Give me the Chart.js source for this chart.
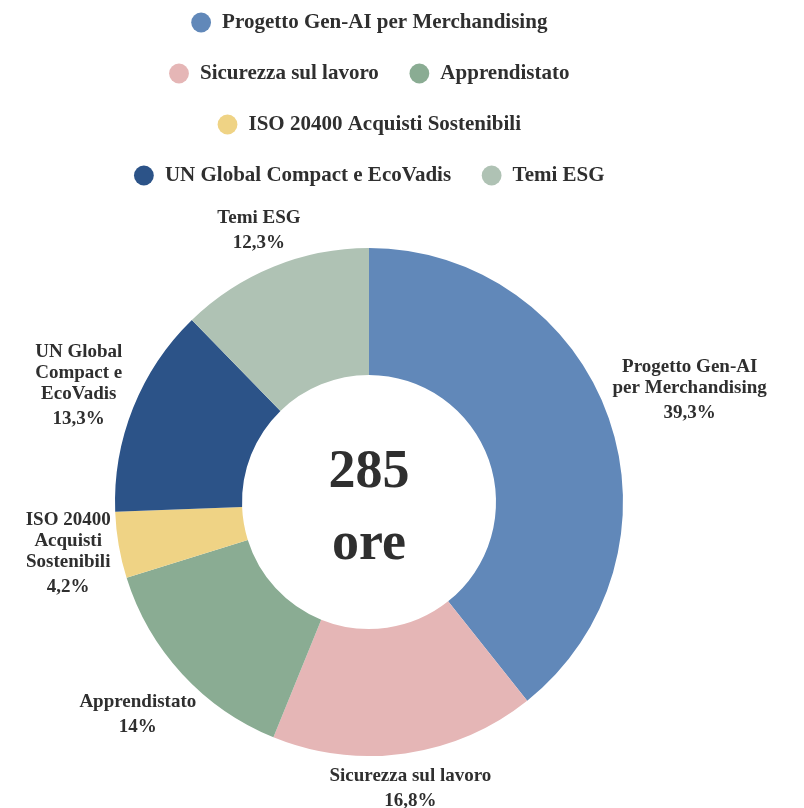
<!DOCTYPE html>
<html>
<head>
<meta charset="utf-8">
<script src="https://cdn.jsdelivr.net/npm/chart.js@4"></script>
<style>
  html, body { margin: 0; padding: 0; background: #ffffff; }
  #wrap { width: 804px; height: 808px; }
</style>
</head>
<body>
<div id="wrap"><canvas id="chart"></canvas></div>
<script>
const categories = [
    "Progetto Gen-AI per Merchandising",
    "Sicurezza sul lavoro",
    "Apprendistato",
    "ISO 20400 Acquisti Sostenibili",
    "UN Global Compact e EcoVadis",
    "Temi ESG"
];
// label text as it is wrapped around the ring
const sliceLabels = [
    ["Progetto Gen-AI", "per Merchandising"],
    ["Sicurezza sul lavoro"],
    ["Apprendistato"],
    ["ISO 20400", "Acquisti", "Sostenibili"],
    ["UN Global", "Compact e", "EcoVadis"],
    ["Temi ESG"]
];
const hours = [112, 48, 40, 12, 38, 35];
const colors = ["#6188b9", "#e5b6b6", "#8aac93", "#efd385", "#2c5388", "#afc2b4"];
const centerUnit = "ore";

const FONT = "'Liberation Serif', 'DejaVu Serif', serif";
const INK = "#2f2f2f";

function pct(v){
    let total = hours.reduce((a, b) => a + b, 0);
    let s = (v / total * 100).toFixed(1).replace(".", ",");
    if(s.endsWith(",0")) s = s.slice(0, -2);
    return s + "%";
}

const outLabels = {
    id: "outLabels",
    afterDatasetsDraw(chart){
        const ctx = chart.ctx;
        const meta = chart.getDatasetMeta(0);
        const offset = 2;
        ctx.save();
        ctx.fillStyle = INK;
        ctx.textAlign = "center";
        ctx.textBaseline = "middle";
        ctx.font = "bold 19px " + FONT;

        meta.data.forEach((arc, i) => {
            const p = arc.getProps(["x", "y", "startAngle", "endAngle", "outerRadius"], true);
            const mid = (p.startAngle + p.endAngle) / 2;
            const vx = Math.cos(mid), vy = Math.sin(mid);
            const lines = sliceLabels[i];
            const n = lines.length;
            const pctY = 10 + (n - 1) * 21 + 25;
            const h = pctY + 10;
            let w = 0;
            lines.forEach(l => { w = Math.max(w, ctx.measureText(l).width); });
            w = Math.max(w, ctx.measureText(pct(hours[i])).width);

            // box centre sits on the bisector, just clear of the ring
            const d = p.outerRadius + offset + Math.abs(vx) * w / 2 + Math.abs(vy) * h / 2;
            const bx = p.x + vx * d;
            const by = p.y + vy * d;
            const top = by - h / 2;

            lines.forEach((l, k) => ctx.fillText(l, bx, top + 10 + k * 21));
            ctx.fillText(pct(hours[i]), bx, top + pctY);
        });

        // centre text
        const c = meta.data[0];
        const total = hours.reduce((a, b) => a + b, 0);
        ctx.textBaseline = "alphabetic";
        ctx.font = "bold 54px " + FONT;
        ctx.fillText(String(total), c.x, c.y - 15);
        ctx.fillText(centerUnit, c.x, c.y + 57);
        ctx.restore();
    }
};

function draw(){
    new Chart(document.getElementById("chart"), {
        type: "doughnut",
        data: {
            labels: categories,
            datasets: [{
                data: hours,
                backgroundColor: colors,
                borderWidth: 0,
                hoverOffset: 0
            }]
        },
        options: {
            responsive: true,
            maintainAspectRatio: false,
            animation: false,
            radius: 254,
            cutout: "50%",
            layout: {
                padding: { top: -18, left: 69, right: 135, bottom: -10 }
            },
            plugins: {
                tooltip: { enabled: false },
                legend: {
                    position: "top",
                    labels: {
                        usePointStyle: true,
                        pointStyle: "circle",
                        boxWidth: 21,
                        boxHeight: 14,
                        padding: 30,
                        color: INK,
                        font: { family: FONT, size: 21, weight: "bold" }
                    }
                }
            }
        },
        plugins: [outLabels]
    });
}

window.onload = draw;
</script>
</body>
</html>
